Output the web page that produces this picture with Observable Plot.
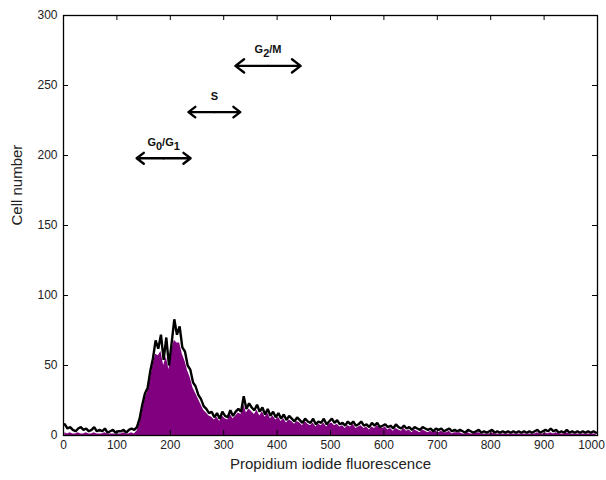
<!DOCTYPE html>
<html><head><meta charset="utf-8">
<script src="https://cdn.jsdelivr.net/npm/d3@7"></script>
<script src="https://cdn.jsdelivr.net/npm/@observablehq/plot@0.6"></script>
<style>
body{margin:0;background:#fff}
svg{font-family:"Liberation Sans",Arial,sans-serif}
</style>
</head><body><div id="chart"></div>
<script>
// Histogram bins: width 5 fluorescence units, starting at 0
const binWidth = 5;
// Total events (black trace)
const totalCounts = [
  8,5,6,4,3,5,6,4,5,3,
  4,6,3,4,3,5,2,3,4,2,
  3,3,4,2,4,5,4,6,12,22,
  30,34,46,55,68,62,72,54,70,50,
  66,83,72,78,63,60,50,47,38,35,
  29,26,21,19,16,17,13,16,12,17,
  14,13,18,14,17,19,17,28,19,23,
  20,18,22,17,20,15,19,14,17,13,
  16,12,15,11,14,12,10,13,11,9,
  12,10,9,12,8,10,9,12,8,10,
  12,9,11,8,9,7,10,8,10,7,
  8,10,7,8,6,9,7,9,6,7,
  8,6,7,5,8,6,5,7,5,6,
  4,6,5,4,6,5,4,5,3,5,
  4,5,3,4,5,3,4,3,4,3,
  2,4,3,2,3,4,2,3,2,3,
  4,2,3,2,3,2,3,2,3,2,
  3,2,3,2,3,2,3,4,2,3,
  4,3,5,3,4,2,3,2,4,2,
  3,2,3,2,3,2,3,2,3,2
];
// Gated events (purple fill)
const gatedCounts = [
  2,1,2,1,1,2,1,1,2,1,
  1,2,1,1,1,2,1,1,1,1,
  1,1,2,1,1,2,1,3,8,17,
  26,31,40,50,58,57,60,50,56,47,
  60,68,66,66,58,53,46,41,34,30,
  26,22,18,16,14,13,11,13,10,14,
  12,11,15,12,14,16,15,22,16,19,
  17,15,18,14,17,13,16,12,14,11,
  13,10,12,9,11,10,8,10,9,7,
  10,8,7,9,6,8,7,9,6,8,
  9,7,8,6,7,5,7,6,8,5,
  6,7,5,6,4,6,5,7,5,5,
  6,4,5,3,5,4,3,5,3,4,
  2,4,3,2,4,3,2,3,2,3,
  2,3,2,2,3,1,2,2,2,1,
  1,2,1,1,2,2,1,1,1,1,
  2,1,1,1,1,1,1,1,1,1,
  1,1,1,1,1,1,1,2,1,1,
  2,1,2,1,2,1,1,1,2,1,
  1,1,1,1,1,1,1,1,1,1
];
const xTicks = [0,100,200,300,400,500,600,700,800,900,1000];
const yTicks = [0,50,100,150,200,250,300];
// Cell-cycle phase annotations
const phaseLabels = ["G0/G1","S","G2/M"];
const phaseStart = [137,234,322];
const phaseEnd = [238,331,444];
const phaseLevel = [198,231,264];

const data = totalCounts.map((v,i)=>({x: i*binWidth + binWidth/2, total: v, gated: gatedCounts[i]}));
const annos = phaseLabels.map((l,i)=>({label:l, x1:phaseStart[i], x2:phaseEnd[i], xm:(phaseStart[i]+phaseEnd[i])/2, y:phaseLevel[i]}));

const W = 606, H = 480, mL = 63, mR = 9, mT = 15, mB = 45;
const frameW = W - mL - mR, frameH = H - mT - mB, tk = 5;
const lastTick = xTicks[xTicks.length-1];

const plot = Plot.plot({
  width: W, height: H,
  marginLeft: mL, marginRight: mR, marginTop: mT, marginBottom: mB,
  style: {fontFamily: '"Liberation Sans", Arial, sans-serif', fontSize: "12px", color: "#222", background: "white"},
  x: {domain: [0,1000]},
  y: {domain: [0,300]},
  marks: [
    Plot.areaY(data, {x: "x", y: "gated", fill: "#800080"}),
    Plot.line(data, {x: "x", y: "total", stroke: "black", strokeWidth: 2.4, strokeLinejoin: "miter"}),
    Plot.frame({stroke: "black", strokeWidth: 1.3}),
    Plot.tickX(xTicks, {x: d=>d, insetTop: frameH - tk, stroke: "black"}),
    Plot.tickX(xTicks, {x: d=>d, insetBottom: frameH - tk, stroke: "black"}),
    Plot.tickY(yTicks, {y: d=>d, insetRight: frameW - tk, stroke: "black"}),
    Plot.tickY(yTicks, {y: d=>d, insetLeft: frameW - tk, stroke: "black"}),
    Plot.axisX(xTicks.filter(d => d !== lastTick), {tickSize: 0, tickPadding: 5, tickFormat: d=>String(d), label: null, fontSize: 12}),
    Plot.axisX([lastTick], {tickSize: 0, tickPadding: 5, tickFormat: d=>String(d), label: null, fontSize: 12, dx: -6}),
    Plot.axisY(yTicks, {tickSize: 0, tickPadding: 6, tickFormat: d=>String(d), label: null, fontSize: 12}),
    Plot.text(["Propidium iodide fluorescence"], {frameAnchor: "bottom", dy: 33, fontSize: 15, fill: "#222"}),
    Plot.text(["Cell number"], {frameAnchor: "left", dx: -46, rotate: -90, fontSize: 15, fill: "#222"}),
    Plot.arrow(annos, {x1: "xm", x2: "x1", y1: "y", y2: "y", stroke: "black", strokeWidth: 2.4, headLength: 12, headAngle: 75}),
    Plot.arrow(annos, {x1: "xm", x2: "x2", y1: "y", y2: "y", stroke: "black", strokeWidth: 2.4, headLength: 12, headAngle: 75}),
    Plot.text(annos, {x: "xm", y: "y", text: "label", dy: -16, fontWeight: "bold", fontSize: 11, fill: "#111"})
  ]
});

// subscripts for G0/G1 and G2/M
const ns = "http://www.w3.org/2000/svg";
plot.querySelectorAll('g[aria-label="text"] text').forEach(t => {
  const s = t.textContent;
  if (!/G\d/.test(s)) return;
  t.textContent = "";
  const parts = s.split(/(\d)/).filter(p => p.length);
  let shifted = false;
  parts.forEach(p => {
    const ts = document.createElementNS(ns, "tspan");
    ts.textContent = p;
    if (/^\d$/.test(p)) { ts.setAttribute("dy", "4"); shifted = true; }
    else if (shifted) { ts.setAttribute("dy", "-4"); shifted = false; }
    t.appendChild(ts);
  });
});
document.getElementById("chart").appendChild(plot);
</script>
</body></html>
